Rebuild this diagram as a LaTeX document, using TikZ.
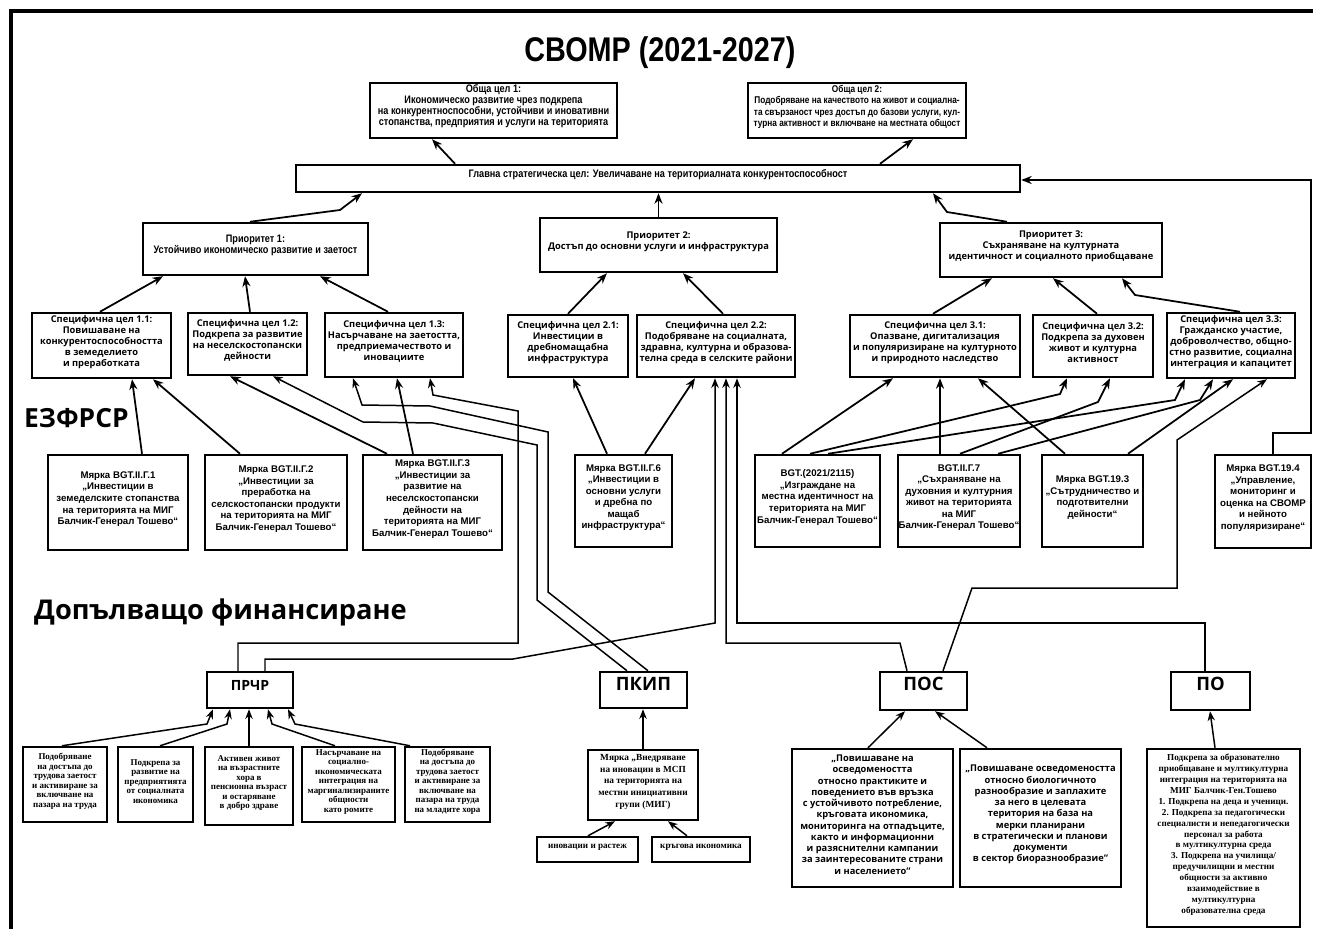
\documentclass[tikz,border=0pt]{standalone}
\usepackage{fontspec}
\setmainfont{Liberation Sans}
\newfontfamily\narf[FakeStretch=0.84]{Liberation Sans}
\newfontfamily\osf{Open Sans}
\newfontfamily\serf{Liberation Serif}
\usetikzlibrary{arrows.meta,fit,calc}
\newcommand\fs[2]{\fontsize{#1}{#2}\selectfont}
\begin{document}
\begin{tikzpicture}[x=0.02cm,y=-0.02cm,
 bx/.style={draw,line width=1.4pt,inner sep=0pt,align=center},
 arr/.style={line width=1pt,-{Stealth[length=6pt,width=4.6pt]}},
 arrt/.style={line width=0.85pt,-{Stealth[length=5.5pt,width=4.2pt]}},
 topt/.style={font=\narf\bfseries\fs{6.2}{6.3}},
 midt/.style={font=\osf\bfseries\fs{5.3}{6.3}},
 meat/.style={font=\bfseries\fs{5.5}{6.6}},
 sert/.style={font=\serf\bfseries\fs{5.1}{5.4}},
 post/.style={font=\osf\bfseries\fs{5.3}{6.4}},
 lab/.style={font=\osf\bfseries\fs{10.5}{12}},
]
\useasboundingbox (0,0) rectangle (1322,929);
\fill[white] (0,0) rectangle (1322,929);
\draw[line width=2pt] (11,945) -- (11,11) -- (1313,11);

\node[font=\narf\bfseries\fs{19.5}{20}] (title) at (660,53) {СВОМР (2021-2027)};

% top
\node[bx,topt,fit={(370,83)(617,138)}] (g1) {Обща цел 1:\\Икономическо развитие чрез подкрепа\\на конкурентноспособни, устойчиви и иновативни\\стопанства, предприятия и услуги на територията};
\node[bx,font=\narf\bfseries\fs{5.6}{6.3},fit={(748,83)(966,138)}] (g2) {Обща цел 2:\\Подобряване на качеството на живот и социална-\\та свързаност чрез достъп до базови услуги, кул-\\турна активност и включване на местната общост};
\node[bx,topt,fit={(296,165)(1020,192)}] (main) {Главна стратегическа цел: Увеличаване на териториалната конкурентоспособност};

\node[bx,topt,fit={(143,223)(368,275)}] (p1) {Приоритет 1:\\Устойчиво икономическо развитие и заетост};
\node[bx,midt,fit={(540,218)(777,272)}] (p2) {Приоритет 2:\\Достъп до основни услуги и инфраструктура};
\node[bx,midt,fit={(940,223)(1162,277)}] (p3) {Приоритет 3:\\Съхраняване на културната\\идентичност и социалното приобщаване};

% specific goals
\node[bx,midt,fit={(32,313)(171,378)}] (sc11) {Специфична цел 1.1:\\Повишаване на\\конкурентоспособността\\в земеделието\\и преработката};
\node[bx,midt,fit={(188,313)(307,375)}] (sc12) {Специфична цел 1.2:\\Подкрепа за развитие\\на неселскостопански\\дейности};
\node[bx,midt,fit={(325,313)(463,377)}] (sc13) {Специфична цел 1.3:\\Насърчаване на заетостта,\\предприемачеството и\\иновациите};
\node[bx,midt,fit={(508,315)(628,377)}] (sc21) {Специфична цел 2.1:\\Инвестиции в\\дребномащабна\\инфраструктура};
\node[bx,midt,fit={(637,315)(795,377)}] (sc22) {Специфична цел 2.2:\\Подобряване на социалната,\\здравна, културна и образова-\\телна среда в селските райони};
\node[bx,midt,fit={(850,315)(1020,377)}] (sc31) {Специфична цел 3.1:\\Опазване, дигитализация\\и популяризиране на културното\\и природното наследство};
\node[bx,midt,fit={(1033,315)(1153,377)}] (sc32) {Специфична цел 3.2:\\Подкрепа за духовен\\живот и културна\\активност};
\node[bx,midt,fit={(1167,313)(1295,378)}] (sc33) {Специфична цел 3.3:\\Гражданско участие,\\доброволчество, общно-\\стно развитие, социална\\интеграция и капацитет};

% measures
\node[bx,meat,fit={(48,455)(188,550)}] (m1) {Мярка BGT.II.Г.1\\„Инвестиции в\\земеделските стопанства\\на територията на МИГ\\Балчик-Генерал Тошево“};
\node[bx,meat,fit={(205,455)(347,550)}] (m2) {Мярка BGT.II.Г.2\\„Инвестиции за\\преработка на\\селскостопански продукти\\на територията на МИГ\\Балчик-Генерал Тошево“};
\node[bx,meat,fit={(363,455)(502,550)}] (m3) {Мярка BGT.II.Г.3\\„Инвестиции за\\развитие на\\неселскостопански\\дейности на\\територията на МИГ\\Балчик-Генерал Тошево“};
\node[bx,meat,fit={(575,455)(672,547)}] (m6) {Мярка BGT.II.Г.6\\„Инвестиции в\\основни услуги\\и дребна по\\мащаб\\инфраструктура“};
\node[bx,meat,fit={(755,455)(880,547)}] (mb) {BGT.(2021/2115)\\„Изграждане на\\местна идентичност на\\територията на МИГ\\Балчик-Генерал Тошево“};
\node[bx,meat,fit={(898,455)(1020,547)}] (m7) {BGT.II.Г.7\\„Съхраняване на\\духовния и културния\\живот на територията\\на МИГ\\Балчик-Генерал Тошево“};
\node[bx,meat,fit={(1042,455)(1143,547)}] (m193) {Мярка BGT.19.3\\„Сътрудничество и\\подготвителни\\дейности“};
\node[bx,meat,fit={(1215,455)(1311,548)}] (m194) {Мярка BGT.19.4\\„Управление,\\мониторинг и\\оценка на СВОМР\\и нейното\\популяризиране“};

\node[anchor=west,font=\osf\bfseries\fs{15}{16}] (ezf) at (18,418) {ЕЗФРСР};
\node[anchor=west,font=\osf\bfseries\fs{15.5}{17}] (dop) at (28,612) {Допълващо финансиране};

% bottom
\node[bx,font=\osf\bfseries\fs{8}{9},fit={(207,672)(293,708)}] (prchr) {ПРЧР};
\node[bx,lab,fit={(600,672)(687,708)}] (pkip) {ПКИП};
\node[bx,lab,fit={(880,672)(967,710)}] (pos) {ПОС};
\node[bx,lab,fit={(1171,672)(1250,710)}] (po) {ПО};

\node[bx,sert,fit={(23,747)(107,822)}] (r1) {Подобряване\\на достъпа до\\трудова заетост\\и активиране за\\включване на\\пазара на труда};
\node[bx,sert,fit={(118,747)(193,822)}] (r2) {Подкрепа за\\развитие на\\предприятията\\от социалната\\икономика};
\node[bx,sert,fit={(205,747)(293,825)}] (r3) {Активен живот\\на възрастните\\хора в\\пенсионна възраст\\и остаряване\\в добро здраве};
\node[bx,sert,fit={(302,747)(395,822)}] (r4) {Насърчаване на\\социално-\\икономическата\\интеграция на\\маргинализираните\\общности\\като ромите};
\node[bx,sert,fit={(405,747)(490,822)}] (r5) {Подобряване\\на достъпа до\\трудова заетост\\и активиране за\\включване на\\пазара на труда\\на младите хора};

\node[bx,font=\serf\bfseries\fs{5.3}{6.8},fit={(588,750)(698,820)}] (km) {Мярка „Внедряване\\на иновации в МСП\\на територията на\\местни инициативни\\групи (МИГ)};
\node[bx,font=\serf\bfseries\fs{5.2}{6},fit={(537,837)(638,862)}] (k1) {иновации и растеж};
\node[bx,font=\serf\bfseries\fs{5.2}{6},fit={(652,837)(750,862)}] (k2) {кръгова икономика};

\node[bx,post,fit={(792,749)(953,887)}] (s1) {„Повишаване на\\осведомеността\\относно практиките и\\поведението във връзка\\с устойчивото потребление,\\кръговата икономика,\\мониторинга на отпадъците,\\както и информационни\\и разяснителни кампании\\за заинтересованите страни\\и населението“};
\node[bx,post,fit={(960,749)(1121,887)}] (s2) {„Повишаване осведомеността\\относно биологичното\\разнообразие  и заплахите\\за него в целевата\\територия на  база на\\мерки планирани\\в стратегически и планови\\документи\\в сектор биоразнообразие“};
\node[bx,font=\serf\bfseries\fs{5.2}{6.2},fit={(1147,749)(1300,927)}] (o1) {Подкрепа за образователно\\приобщаване и мултикултурна\\интеграция на територията на\\МИГ Балчик-Ген.Тошево\\1. Подкрепа на деца и ученици.\\2. Подкрепа за педагогически\\специалисти и непедагогически\\персонал за работа\\в мултикултурна среда\\3. Подкрепа на училища/\\предучилищни и местни\\общности за активно\\взаимодействие в\\мултикултурна\\образователна среда};

% connectors top
\draw[arr] (455,0 |- main.north) -- (432,0 |- g1.south);
\draw[arr] (880,0 |- main.north) -- (913,0 |- g2.south);
\draw[arr] (250,0 |- p1.north) -- (340,210) -- (362,0 |- main.south);
\draw[arr] (p2.north) -- (p2.north |- main.south);
\draw[arr] (1007,0 |- p3.north) -- (947,212) -- (933,0 |- main.south);
\draw[arr] (100,0 |- sc11.north) -- (163,0 |- p1.south);
\draw[arr] (250,0 |- sc12.north) -- (245,0 |- p1.south);
\draw[arr] (388,0 |- sc13.north) -- (320,0 |- p1.south);
\draw[arr] (568,0 |- sc21.north) -- (607,0 |- p2.south);
\draw[arr] (723,0 |- sc22.north) -- (683,0 |- p2.south);
\draw[arr] (933,0 |- sc31.north) -- (992,0 |- p3.south);
\draw[arr] (1097,0 |- sc32.north) -- (1053,0 |- p3.south);
\draw[arr] (1240,0 |- sc33.north) -- (1135,295) -- (1122,0 |- p3.south);

% measures to goals
\draw[arr] (142,0 |- m1.north) -- (132,0 |- sc11.south);
\draw[arr] (240,0 |- m2.north) -- (153,0 |- sc11.south);
\draw[arr] (387,0 |- m3.north) -- (230,0 |- sc12.south);
\draw[arr] (413,0 |- m3.north) -- (397,0 |- sc13.south);
\draw[arr] (607,0 |- m6.north) -- (573,0 |- sc21.south);
\draw[arr] (645,0 |- m6.north) -- (695,0 |- sc22.south);
\draw[arr] (782,0 |- mb.north) -- (893,0 |- sc31.south);
\draw[arr] (940,0 |- m7.north) -- (940,0 |- sc31.south);
\draw[arr] (1065,0 |- m193.north) -- (978,0 |- sc31.south);
\draw[arr] (810,0 |- mb.north) -- (1060,394) -- (1067,0 |- sc32.south);
\draw[arr] (828,0 |- mb.north) -- (1175,400) -- (1185,0 |- sc33.south);
\draw[arr] (960,0 |- m7.north) -- (1098,402) -- (1110,0 |- sc32.south);
\draw[arr] (998,0 |- m7.north) -- (1200,400) -- (1213,0 |- sc33.south);
\draw[arr] (1128,0 |- m193.north) -- (1233,0 |- sc33.south);
\draw[arr] (1273,0 |- m194.north) -- (1273,433) -- (1311,433) -- (1311,180) -- (main.east |- 0,180);

% complementary funding
\draw[arrt] (238,0 |- prchr.north) -- (238,643) -- (518,643) -- (518,411) -- (433,395) -- (430,0 |- sc13.south);
\draw[arrt] (265,0 |- prchr.north) -- (265,659) -- (513,659) -- (715,623) -- (715,0 |- sc22.south);
\draw[arrt] (627,0 |- pkip.north) -- (537,600) -- (537,445) -- (433,423) -- (363,422) -- (273,0 |- sc12.south);
\draw[arrt] (648,0 |- pkip.north) -- (548,592) -- (548,432) -- (430,406) -- (362,405) -- (353,0 |- sc13.south);
\draw[arrt] (907,0 |- pos.north) -- (900,643) -- (726,643) -- (726,0 |- sc22.south);
\draw[arrt] (943,0 |- pos.north) -- (972,588) -- (1177,588) -- (1177,440) -- (1267,0 |- sc33.south);
\draw[arrt] (1205,0 |- po.north) -- (1205,623) -- (737,623) -- (737,0 |- sc22.south);

\draw[arrt] (62,0 |- r1.north) -- (207,724) -- (213,0 |- prchr.south);
\draw[arrt] (160,0 |- r2.north) -- (227,724) -- (230,0 |- prchr.south);
\draw[arrt] (r3.north) -- (r3.north |- prchr.south);
\draw[arrt] (335,0 |- r4.north) -- (272,724) -- (268,0 |- prchr.south);
\draw[arrt] (410,0 |- r5.north) -- (295,724) -- (288,0 |- prchr.south);
\draw[arrt] (643,0 |- km.north) -- (643,0 |- pkip.south);
\draw[arrt] (588,0 |- k1.north) -- (615,0 |- km.south);
\draw[arrt] (687,0 |- k2.north) -- (668,0 |- km.south);
\draw[arrt] (868,0 |- s1.north) -- (905,0 |- pos.south);
\draw[arrt] (987,0 |- s2.north) -- (935,0 |- pos.south);
\draw[arrt] (1215,0 |- o1.north) -- (1210,0 |- po.south);
\end{tikzpicture}
\end{document}
